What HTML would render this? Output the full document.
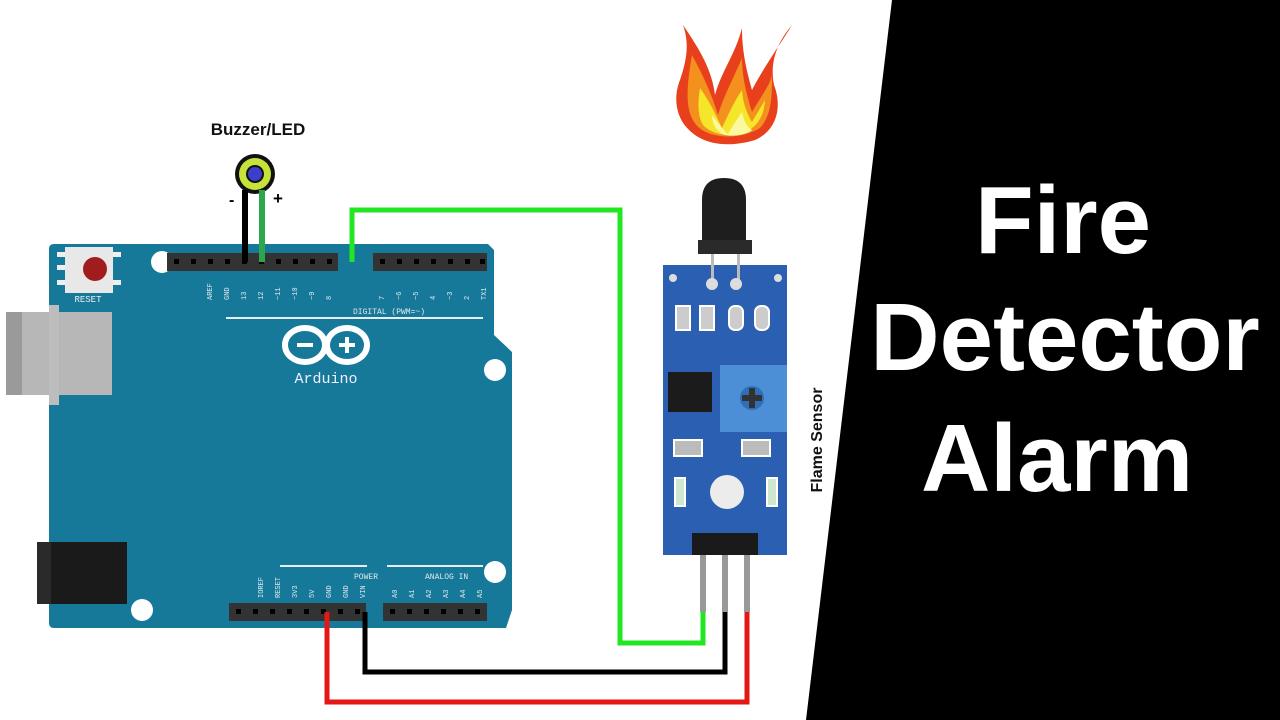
<!DOCTYPE html>
<html><head><meta charset="utf-8"><style>
html,body{margin:0;padding:0;background:#fff;}
svg{display:block;}
</style></head><body>
<svg width="1280" height="720" viewBox="0 0 1280 720" xmlns="http://www.w3.org/2000/svg" font-family="Liberation Sans, Arial, sans-serif">
<rect width="1280" height="720" fill="#fff"/>
<polygon points="892,0 1280,0 1280,720 806,720" fill="#000"/>
<text x="1063" y="253" fill="#fff" font-size="96" font-weight="bold" text-anchor="middle">Fire</text>
<text x="1065" y="370" fill="#fff" font-size="96" font-weight="bold" text-anchor="middle">Detector</text>
<text x="1057" y="491" fill="#fff" font-size="96" font-weight="bold" text-anchor="middle">Alarm</text>

<!-- flame -->
<g>
<path d="M683,25 C700,50 712,70 715,95 C722,70 735,55 742,28 C742,55 748,75 752,90 C765,65 780,45 792,25 C775,45 770,65 774,85 C782,105 778,130 755,140 C735,146 715,146 700,138 C676,125 672,100 680,80 C686,62 690,45 683,25 Z" fill="#e8401c"/>
<path d="M692,55 C703,75 712,95 718,115 C724,95 735,75 742,58 C742,80 748,98 752,112 C762,95 770,85 772,75 C772,95 772,115 760,128 C740,140 715,138 702,130 C685,118 685,95 692,55 Z" fill="#f4901e"/>
<path d="M700,88 C712,105 718,120 722,128 C728,115 735,100 742,90 C743,105 748,115 752,122 C758,112 762,105 765,100 C764,118 755,130 740,134 C725,137 710,133 703,125 C697,115 698,100 700,88 Z" fill="#f6e62a"/>
<path d="M712,115 C720,125 725,132 728,134 C733,125 738,118 742,112 C744,122 748,128 752,130 C748,134 735,137 725,135 C718,133 712,125 712,115 Z" fill="#fbf9a0"/>
</g>

<!-- Arduino board -->
<path d="M54,244 L488,244 L494,250 L494,335 L512,352 L512,610 L506,628 L54,628 Q49,628 49,623 L49,249 Q49,244 54,244 Z" fill="#17799a"/>
<rect x="6" y="312" width="106" height="83" fill="#b7b7b7"/>
<rect x="6" y="312" width="16" height="83" fill="#9a9a9a"/>
<rect x="49" y="305" width="10" height="100" fill="#bdbdbd"/>
<rect x="37" y="542" width="90" height="62" fill="#1a1a1a"/>
<rect x="37" y="542" width="14" height="62" fill="#2a2a2a"/>
<!-- reset -->
<rect x="57" y="252" width="8" height="5" fill="#eee"/><rect x="57" y="265" width="8" height="5" fill="#eee"/><rect x="57" y="280" width="8" height="5" fill="#eee"/>
<rect x="113" y="252" width="8" height="5" fill="#eee"/><rect x="113" y="280" width="8" height="5" fill="#eee"/>
<rect x="65" y="247" width="48" height="46" fill="#e8e8e8"/>
<circle cx="95" cy="269" r="12" fill="#a11d1d"/>
<text x="88" y="302" fill="#eee" font-size="9" font-family="Liberation Mono, monospace" text-anchor="middle">RESET</text>
<!-- holes -->
<circle cx="162" cy="262" r="11" fill="#fff"/>
<circle cx="495" cy="370" r="11" fill="#fff"/>
<circle cx="495" cy="572" r="11" fill="#fff"/>
<circle cx="142" cy="610" r="11" fill="#fff"/>
<!-- headers -->
<rect x="167" y="253" width="171" height="18" fill="#333"/>
<rect x="373" y="253" width="114" height="18" fill="#333"/>
<rect x="229" y="603" width="137" height="18" fill="#333"/>
<rect x="383" y="603" width="104" height="18" fill="#333"/>
<g fill="#000">
<rect x="174" y="259" width="5" height="5"/><rect x="191" y="259" width="5" height="5"/><rect x="208" y="259" width="5" height="5"/><rect x="225" y="259" width="5" height="5"/><rect x="242" y="259" width="5" height="5"/><rect x="259" y="259" width="5" height="5"/><rect x="276" y="259" width="5" height="5"/><rect x="293" y="259" width="5" height="5"/><rect x="310" y="259" width="5" height="5"/><rect x="327" y="259" width="5" height="5"/>
<rect x="380" y="259" width="5" height="5"/><rect x="397" y="259" width="5" height="5"/><rect x="414" y="259" width="5" height="5"/><rect x="431" y="259" width="5" height="5"/><rect x="448" y="259" width="5" height="5"/><rect x="465" y="259" width="5" height="5"/><rect x="480" y="259" width="5" height="5"/>
<rect x="236" y="609" width="5" height="5"/><rect x="253" y="609" width="5" height="5"/><rect x="270" y="609" width="5" height="5"/><rect x="287" y="609" width="5" height="5"/><rect x="304" y="609" width="5" height="5"/><rect x="321" y="609" width="5" height="5"/><rect x="338" y="609" width="5" height="5"/><rect x="355" y="609" width="5" height="5"/>
<rect x="390" y="609" width="5" height="5"/><rect x="407" y="609" width="5" height="5"/><rect x="424" y="609" width="5" height="5"/><rect x="441" y="609" width="5" height="5"/><rect x="458" y="609" width="5" height="5"/><rect x="475" y="609" width="5" height="5"/>
</g>
<g fill="#dfe9ee" font-size="8" font-family="Liberation Mono, monospace">
<text x="353" y="314">DIGITAL (PWM=~)</text>
<text x="354" y="579">POWER</text>
<text x="425" y="579">ANALOG IN</text>
</g>
<g fill="#dfe9ee" font-size="7" font-family="Liberation Mono, monospace">
<text transform="translate(212,300) rotate(-90)">AREF</text>
<text transform="translate(229,300) rotate(-90)">GND</text>
<text transform="translate(246,300) rotate(-90)">13</text>
<text transform="translate(263,300) rotate(-90)">12</text>
<text transform="translate(280,300) rotate(-90)">~11</text>
<text transform="translate(297,300) rotate(-90)">~10</text>
<text transform="translate(314,300) rotate(-90)">~9</text>
<text transform="translate(331,300) rotate(-90)">8</text>
<text transform="translate(384,300) rotate(-90)">7</text>
<text transform="translate(401,300) rotate(-90)">~6</text>
<text transform="translate(418,300) rotate(-90)">~5</text>
<text transform="translate(435,300) rotate(-90)">4</text>
<text transform="translate(452,300) rotate(-90)">~3</text>
<text transform="translate(469,300) rotate(-90)">2</text>
<text transform="translate(486,300) rotate(-90)">TX1</text>
<text transform="translate(263,598) rotate(-90)">IOREF</text>
<text transform="translate(280,598) rotate(-90)">RESET</text>
<text transform="translate(297,598) rotate(-90)">3V3</text>
<text transform="translate(314,598) rotate(-90)">5V</text>
<text transform="translate(331,598) rotate(-90)">GND</text>
<text transform="translate(348,598) rotate(-90)">GND</text>
<text transform="translate(365,598) rotate(-90)">VIN</text>
<text transform="translate(397,598) rotate(-90)">A0</text>
<text transform="translate(414,598) rotate(-90)">A1</text>
<text transform="translate(431,598) rotate(-90)">A2</text>
<text transform="translate(448,598) rotate(-90)">A3</text>
<text transform="translate(465,598) rotate(-90)">A4</text>
<text transform="translate(482,598) rotate(-90)">A5</text>
</g>
<rect x="226" y="317" width="257" height="2" fill="#e8eef0"/>
<rect x="280" y="565" width="87" height="2" fill="#e8eef0"/>
<rect x="387" y="565" width="96" height="2" fill="#e8eef0"/>
<!-- logo -->
<g fill="none" stroke="#fff" stroke-width="6">
<ellipse cx="305" cy="345" rx="20" ry="17"/>
<ellipse cx="347" cy="345" rx="20" ry="17"/>
</g>
<rect x="297" y="343" width="16" height="4" fill="#fff"/>
<rect x="339" y="343" width="16" height="4" fill="#fff"/><rect x="345" y="337" width="4" height="16" fill="#fff"/>
<text x="326" y="383" fill="#eef" font-size="15" font-family="Liberation Mono, monospace" text-anchor="middle">Arduino</text>

<!-- buzzer -->
<text x="258" y="135" font-size="17" font-weight="bold" text-anchor="middle" fill="#111">Buzzer/LED</text>
<circle cx="255" cy="174" r="20" fill="#111"/>
<circle cx="255" cy="174" r="16" fill="#c6e33a"/>
<circle cx="255" cy="174" r="9" fill="#111"/>
<circle cx="255" cy="174" r="7" fill="#3b3fc9"/>
<rect x="242" y="190" width="6" height="72" fill="#000"/>
<rect x="259" y="190" width="6" height="72" fill="#2ea64c"/>
<text x="229" y="205" font-size="16" font-weight="bold">-</text>
<text x="273" y="204" font-size="17" font-weight="bold">+</text>

<!-- wires -->
<polyline points="352,262 352,210 620,210 620,643 703,643 703,610" fill="none" stroke="#22e622" stroke-width="5"/>
<polyline points="365,612 365,672 725,672 725,610" fill="none" stroke="#000" stroke-width="5"/>
<polyline points="327,612 327,702 747,702 747,610" fill="none" stroke="#e51616" stroke-width="5"/>

<!-- sensor -->
<rect x="700" y="555" width="6" height="57" fill="#999"/>
<rect x="722" y="555" width="6" height="57" fill="#999"/>
<rect x="744" y="555" width="6" height="57" fill="#999"/>
<rect x="663" y="265" width="124" height="290" fill="#2a5fb2"/>
<rect x="711" y="250" width="3" height="30" fill="#bbb"/><rect x="737" y="250" width="3" height="30" fill="#bbb"/>
<path d="M702,252 L702,200 Q702,178 724,178 Q746,178 746,200 L746,252 Z" fill="#1e1e1e"/>
<rect x="698" y="240" width="54" height="14" fill="#2a2a2a"/>
<circle cx="712" cy="284" r="6" fill="#ddd"/><circle cx="736" cy="284" r="6" fill="#ddd"/>
<circle cx="673" cy="278" r="4" fill="#ddd"/><circle cx="778" cy="278" r="4" fill="#ddd"/>
<g fill="#ccc" stroke="#fff" stroke-width="2">
<rect x="676" y="306" width="14" height="24"/><rect x="700" y="306" width="14" height="24"/>
<rect x="729" y="306" width="14" height="24" rx="6"/><rect x="755" y="306" width="14" height="24" rx="6"/>
</g>
<rect x="668" y="372" width="44" height="40" fill="#1b1b1b"/>
<rect x="720" y="365" width="67" height="67" fill="#4d8fd6"/>
<circle cx="752" cy="398" r="12" fill="#2d6fb8"/>
<rect x="749" y="388" width="6" height="20" fill="#333"/><rect x="742" y="395" width="20" height="6" fill="#333"/>
<rect x="674" y="440" width="28" height="16" fill="#bbb" stroke="#fff" stroke-width="2"/>
<rect x="742" y="440" width="28" height="16" fill="#bbb" stroke="#fff" stroke-width="2"/>
<circle cx="727" cy="492" r="17" fill="#ececec"/>
<rect x="675" y="478" width="10" height="28" fill="#cfe6cf" stroke="#fff" stroke-width="2"/>
<rect x="767" y="478" width="10" height="28" fill="#cfe6cf" stroke="#fff" stroke-width="2"/>
<rect x="692" y="533" width="66" height="22" fill="#1a1a1a"/>
<text transform="translate(822,440) rotate(-90)" font-size="16" font-weight="bold" text-anchor="middle" fill="#111">Flame Sensor</text>
</svg>
</body></html>
